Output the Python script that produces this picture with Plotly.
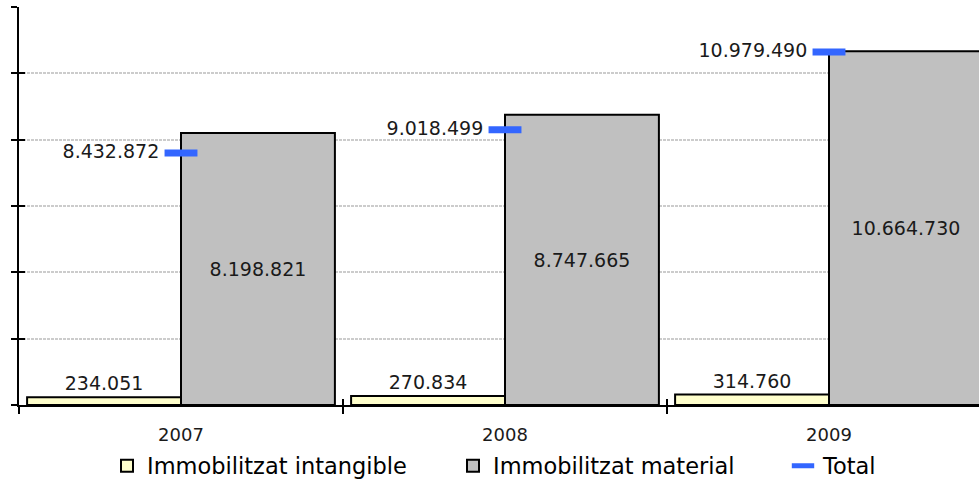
import plotly.graph_objects as go

years = ["2007", "2008", "2009"]
intangible = [234051, 270834, 314760]
material = [8198821, 8747665, 10664730]
total = [8432872, 9018499, 10979490]

names = ["Immobilitzat intangible", "Immobilitzat material", "Total"]

FONT = "DejaVu Sans"
W, H = 979, 481
ML, MR, MT, MB = 19, 0, 7, 76

def cx(p):
    return p / W

def cy(p):
    return 1 - p / H

LBL = dict(family=FONT, size=19, color="#1a1a1a")

fig = go.Figure()
fig.add_trace(go.Bar(
    x=years, y=intangible, name=names[0],
    marker=dict(color="#FFFFCC", line=dict(color="black", width=2)),
    texttemplate="%{y:,}", textposition="outside",
    textfont=LBL, cliponaxis=False, legend="legend",
))
fig.add_trace(go.Bar(
    x=years, y=material, name=names[1],
    marker=dict(color="#C0C0C0", line=dict(color="black", width=2)),
    texttemplate="%{y:,}", textposition="inside", insidetextanchor="middle",
    textfont=LBL, legend="legend2",
))
fig.add_trace(go.Scatter(
    x=years, y=total, name=names[2], yaxis="y2", mode="markers+text",
    marker=dict(symbol="line-ew", size=23.5, color="#3366FF",
                line=dict(color="#3366FF", width=7)),
    texttemplate="%{y:,}\u00a0", textposition="middle left",
    textfont=LBL, cliponaxis=False, legend="legend3",
))
# overlay axes to draw the inner half of the crossing tick marks
fig.add_trace(go.Scatter(
    x=years, y=[None, None, None], xaxis="x2", yaxis="y3",
    showlegend=False, hoverinfo="skip", mode="markers",
))

xr = [-0.5, 2.5 - 12 / 324]
LEG = dict(family=FONT, size=22.5, color="black")
fig.update_layout(
    width=W, height=H,
    margin=dict(l=ML, r=MR, t=MT, b=MB, autoexpand=False),
    paper_bgcolor="white", plot_bgcolor="white",
    separators=",.",
    barmode="group", bargap=0.05, bargroupgap=0,
    font=dict(family=FONT, size=18, color="#1a1a1a"),
    xaxis=dict(type="category", range=xr, tickson="boundaries",
               ticks="outside", ticklen=7, tickwidth=2, tickcolor="black",
               showline=True, linecolor="black", linewidth=2,
               showgrid=False, tickfont=dict(family=FONT, size=18, color="#1a1a1a"),
               ticklabelstandoff=12, zeroline=False, automargin=False),
    yaxis=dict(range=[0, 12000000], dtick=2000000, showticklabels=False,
               ticks="outside", ticklen=6, tickwidth=2, tickcolor="black",
               showline=True, linecolor="black", linewidth=2,
               showgrid=True, gridcolor="#CCCCCC", gridwidth=2, griddash="3px,1px",
               zeroline=False, automargin=False),
    yaxis2=dict(overlaying="y", range=[2078944, 12114116], visible=False),
    xaxis2=dict(type="category", overlaying="x", anchor="y3", range=xr,
                tickson="boundaries", ticks="inside", ticklen=6, tickwidth=2,
                tickcolor="black", showticklabels=False, showgrid=False,
                showline=False, zeroline=False),
    yaxis3=dict(overlaying="y", anchor="x2", range=[0, 12000000], dtick=2000000,
                ticks="inside", ticklen=6, tickwidth=2, tickcolor="black",
                showticklabels=False, showgrid=False, showline=False, zeroline=False),
    legend=dict(xref="container", yref="container", x=cx(107), y=cy(466),
                xanchor="left", yanchor="middle",
                font=LEG, bgcolor="rgba(0,0,0,0)"),
    legend2=dict(xref="container", yref="container", x=cx(453), y=cy(466),
                 xanchor="left", yanchor="middle",
                 font=LEG, bgcolor="rgba(0,0,0,0)"),
    legend3=dict(xref="container", yref="container", x=cx(783), y=cy(466),
                 xanchor="left", yanchor="middle",
                 font=LEG, bgcolor="rgba(0,0,0,0)"),
    showlegend=True,
)

fig.write_html("out.html", config={"displayModeBar": False},
               post_script="document.body.style.margin='0';")
